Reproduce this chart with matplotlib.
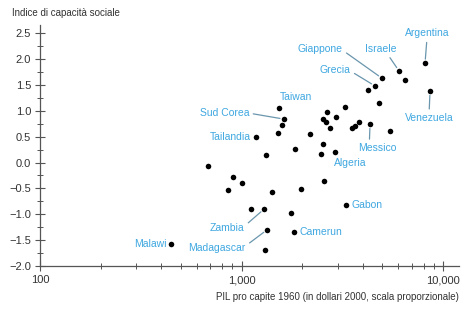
import matplotlib
matplotlib.use("Agg")
import matplotlib.pyplot as plt
from matplotlib.ticker import FixedLocator, FixedFormatter, NullFormatter

plt.rcParams['font.family'] = ['Liberation Sans', 'DejaVu Sans']

# GDP per capita 1960 (2000 dollars) and social capability index
gdp = [447, 1115, 1294, 1339, 1308, 1822, 1761, 682, 907, 1005, 857, 1416,
       1974, 2566, 3300, 1535, 1626, 1589, 1518, 1180, 2188, 2656, 2537, 2626,
       2537, 2481, 1843, 1323, 2748, 8140, 6050, 6475, 4980, 4600, 4245, 8620,
       4810, 3262, 2944, 3828, 3656, 3533, 4343, 5458, 2911]
sci = [-1.57, -0.90, -0.90, -1.30, -1.69, -1.34, -0.97, -0.07, -0.28, -0.40,
       -0.53, -0.57, -0.51, -0.35, -0.82, 1.05, 0.84, 0.72, 0.57, 0.49, 0.55,
       0.97, 0.84, 0.78, 0.36, 0.16, 0.26, 0.15, 0.67, 1.92, 1.77, 1.59, 1.63,
       1.48, 1.40, 1.38, 1.15, 1.07, 0.88, 0.78, 0.71, 0.67, 0.74, 0.62, 0.20]

# labelled countries: name, gdp, sci
lab_names = ['Argentina', 'Israele', 'Giappone', 'Grecia', 'Taiwan', 'Sud Corea',
             'Tailandia', 'Venezuela', 'Messico', 'Algeria', 'Gabon', 'Camerun',
             'Zambia', 'Madagascar', 'Malawi']
lab_gdp = [8140, 6050, 4980, 4600, 1535, 1626, 1180, 8620, 4343, 2911, 3300,
           1822, 1294, 1339, 447]
lab_sci = [1.92, 1.77, 1.63, 1.48, 1.05, 0.84, 0.49, 1.38, 0.74, 0.20, -0.82,
           -1.34, -0.90, -1.30, -1.57]

x_major = [100, 1000, 10000]
x_major_labels = ['100', '1,000', '10,000']
y_major = [-2.0, -1.5, -1.0, -0.5, 0.0, 0.5, 1.0, 1.5, 2.0, 2.5]

title = 'Indice di capacità sociale'
xlabel = 'PIL pro capite 1960 (in dollari 2000, scala proporzionale)'

label_color = '#3ea7e0'
line_color = '#6a96ad'
axis_color = '#555555'
text_color = '#333333'

fig = plt.figure(figsize=(4.62, 3.09), dpi=100)
ax = fig.add_axes([40/462, 1-266/309, (459-40)/462, (266-25)/309])

ax.scatter(gdp, sci, s=16, color='black', zorder=3, linewidths=0)

ax.set_xscale('log')
ax.set_xlim(100, 12000)
ax.set_ylim(-2.0, 2.66)

ax.xaxis.set_major_locator(FixedLocator(x_major))
ax.xaxis.set_major_formatter(FixedFormatter(x_major_labels))
minors = [m * d for d in (100, 1000) for m in range(2, 10)]
ax.xaxis.set_minor_locator(FixedLocator(minors))
ax.xaxis.set_minor_formatter(NullFormatter())
ax.set_yticks(y_major)
ax.set_yticklabels([f'{v:.1f}'.replace('-', '\u2212') for v in y_major])
ax.set_yticks([v + 0.25 for v in y_major[:-1]], minor=True)

for s in ('top', 'right'):
    ax.spines[s].set_visible(False)
for s in ('left', 'bottom'):
    ax.spines[s].set_color(axis_color)
    ax.spines[s].set_linewidth(0.9)

ax.tick_params(which='major', direction='inout', length=7, width=0.8,
               color=axis_color, labelsize=8, labelcolor=text_color, pad=3)
ax.tick_params(which='minor', direction='inout', length=4, width=0.7,
               color=axis_color)

# offsets in points, ha, whether a leader line, relpos
specs = {
    'Argentina': ((1.4, 21.6), 'center', True, (0.5, 0.0)),
    'Israele': ((-13, 16), 'center', True, (0.7, 0.0)),
    'Giappone': ((-44.6, 20.9), 'center', True, (1.0, 0.4)),
    'Grecia': ((-28.8, 11.5), 'center', True, (1.0, 0.4)),
    'Taiwan': ((12.2, 7.9), 'center', False, None),
    'Sud Corea': ((-43, 4.3), 'center', True, (1.0, 0.5)),
    'Tailandia': ((-3.6, 0), 'right', False, None),
    'Venezuela': ((-0.7, -19.4), 'center', True, (0.5, 1.0)),
    'Messico': ((5, -17.3), 'center', True, (0.3, 1.0)),
    'Algeria': ((10.8, -7.9), 'center', False, None),
    'Gabon': ((3.6, 0), 'left', False, None),
    'Camerun': ((3.6, 0), 'left', False, None),
    'Zambia': ((-26.6, -13.7), 'center', True, (1.0, 0.7)),
    'Madagascar': ((-36, -13), 'center', True, (1.0, 0.7)),
    'Malawi': ((-3.0, 0), 'right', False, None),
}

for name, gx, gy in zip(lab_names, lab_gdp, lab_sci):
    off, ha, line, rel = specs[name]
    kw = {}
    if line:
        kw['arrowprops'] = dict(arrowstyle='-', color=line_color, lw=0.9,
                                shrinkA=1, shrinkB=3, relpos=rel)
    ax.annotate(name, xy=(gx, gy), xytext=off, textcoords='offset points',
                ha=ha, va='center', fontsize=7.5, color=label_color, **kw)

fig.text(12/462, 1-13/309, title, ha='left', va='center', fontsize=7,
         color=text_color)
fig.text(459/462, 1-297/309, xlabel, ha='right', va='center', fontsize=7,
         color=text_color)

fig.savefig('out.png', dpi=100)
